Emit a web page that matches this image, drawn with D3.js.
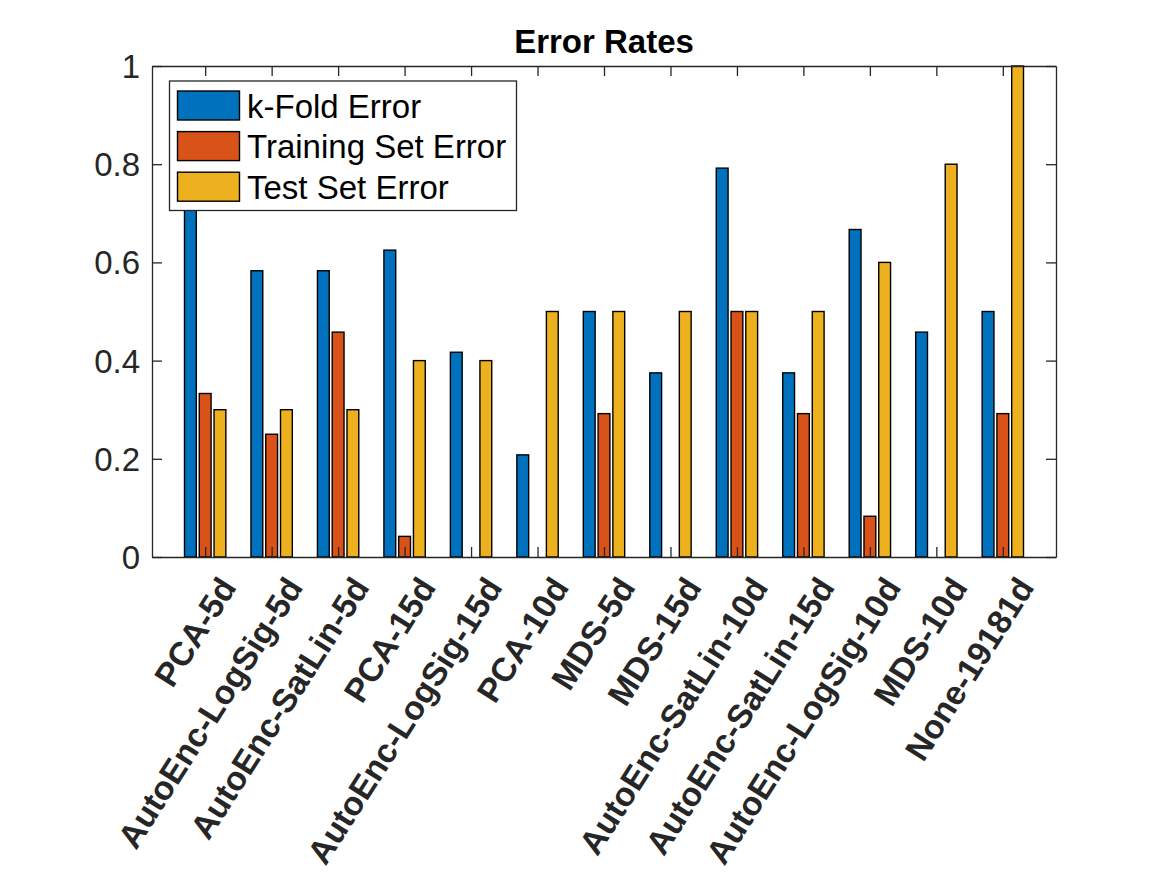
<!DOCTYPE html>
<html>
<head>
<meta charset="utf-8">
<script src="https://cdn.jsdelivr.net/npm/d3@7"></script>
<style>
  html, body { margin: 0; padding: 0; background: #fff; }
  svg { display: block; }
  text { font-family: "Liberation Sans", Arial, Helvetica, sans-serif; }
</style>
</head>
<body>
<svg id="chart" width="1167" height="875"></svg>
<script>
const categories = ["PCA-5d","AutoEnc-LogSig-5d","AutoEnc-SatLin-5d","PCA-15d","AutoEnc-LogSig-15d","PCA-10d","MDS-5d","MDS-15d","AutoEnc-SatLin-10d","AutoEnc-SatLin-15d","AutoEnc-LogSig-10d","MDS-10d","None-19181d"];
const kFoldError    = [0.75, 0.583, 0.583, 0.625, 0.417, 0.208, 0.5, 0.375, 0.792, 0.375, 0.667, 0.458, 0.5];
const trainingError = [0.333, 0.25, 0.458, 0.042, 0, 0, 0.292, 0, 0.5, 0.292, 0.083, 0, 0.292];
const testError     = [0.3, 0.3, 0.3, 0.4, 0.4, 0.5, 0.5, 0.5, 0.5, 0.5, 0.6, 0.8, 1.0];
const seriesNames   = ["k-Fold Error", "Training Set Error", "Test Set Error"];
const seriesColors  = ["#0072BD", "#D95319", "#EDB120"];
const yTicks        = [0, 0.2, 0.4, 0.6, 0.8, 1];
const yTickLabels   = ["0", "0.2", "0.4", "0.6", "0.8", "1"];
const titleText     = "Error Rates";

const series = [kFoldError, trainingError, testError];
const svg = d3.select("#chart");
const L = 152, R = 1056, T = 66, B = 557;
const axisColor = "#262626";

const x = d3.scaleLinear().domain([0.2, categories.length + 0.8]).range([L, R]);
const y = d3.scaleLinear().domain([0, 1]).range([B, T]);

// grouped bars (MATLAB style)
const nS = series.length;
const groupW = Math.min(0.8, nS / (nS + 1.5));
const barW = 0.8 * groupW / nS;
const step = groupW / nS;

const bars = svg.append("g");
series.forEach((vals, j) => {
  bars.selectAll(null)
    .data(vals.map((v, i) => ({ v, i })))
    .enter().append("rect")
    .attr("x", d => x(d.i + 1 + (j - (nS - 1) / 2) * step - barW / 2))
    .attr("width", d => x(barW) - x(0))
    .attr("y", d => y(d.v))
    .attr("height", d => y(0) - y(d.v))
    .attr("fill", seriesColors[j])
    .attr("stroke", "#000")
    .attr("stroke-width", 1.4);
});

// axes
const xTickVals = categories.map((c, i) => i + 1);
const tickLen = 10;

const gLeft = svg.append("g").attr("transform", `translate(${L},0)`)
  .call(d3.axisLeft(y).tickValues(yTicks).tickFormat((d, i) => yTickLabels[i])
    .tickSizeInner(-tickLen).tickSizeOuter(0).tickPadding(12));
const gRight = svg.append("g").attr("transform", `translate(${R},0)`)
  .call(d3.axisRight(y).tickValues(yTicks).tickFormat("").tickSizeInner(-tickLen).tickSizeOuter(0));
const gTop = svg.append("g").attr("transform", `translate(0,${T})`)
  .call(d3.axisTop(x).tickValues(xTickVals).tickFormat("").tickSizeInner(-tickLen).tickSizeOuter(0));
const gBottom = svg.append("g").attr("transform", `translate(0,${B})`)
  .call(d3.axisBottom(x).tickValues(xTickVals).tickFormat((d, i) => categories[i])
    .tickSizeInner(-tickLen).tickSizeOuter(0));

[gLeft, gRight, gTop, gBottom].forEach(g => {
  g.selectAll("path.domain").attr("stroke", axisColor).attr("stroke-width", 1.3);
  g.selectAll(".tick line").attr("stroke", axisColor).attr("stroke-width", 1.3);
});

gLeft.selectAll(".tick text")
  .attr("fill", axisColor)
  .style("font-size", "33px")
  .attr("dy", "0.35em");

gBottom.selectAll(".tick text")
  .attr("fill", axisColor)
  .style("font-size", "33.5px")
  .style("font-weight", "bold")
  .attr("text-anchor", "end")
  .attr("y", 0).attr("dy", "0.35em")
  .attr("transform", "translate(22,24) rotate(-57.5)");

// title
svg.append("text")
  .attr("x", (L + R) / 2).attr("y", 53)
  .attr("text-anchor", "middle")
  .style("font-size", "33px").style("font-weight", "bold")
  .attr("fill", "#000")
  .text(titleText);

// legend
const lg = svg.append("g");
lg.append("rect")
  .attr("x", 169.5).attr("y", 81).attr("width", 347).attr("height", 129.5)
  .attr("fill", "#fff").attr("stroke", axisColor).attr("stroke-width", 1.3);
seriesNames.forEach((name, j) => {
  const cy = 105.5 + j * 40.6;
  lg.append("rect")
    .attr("x", 177.5).attr("y", cy - 14.5).attr("width", 62).attr("height", 29)
    .attr("fill", seriesColors[j]).attr("stroke", "#000").attr("stroke-width", 1.4);
  lg.append("text")
    .attr("x", 247).attr("y", cy + 12)
    .style("font-size", "33px").attr("fill", "#000")
    .text(name);
});
</script>
</body>
</html>
